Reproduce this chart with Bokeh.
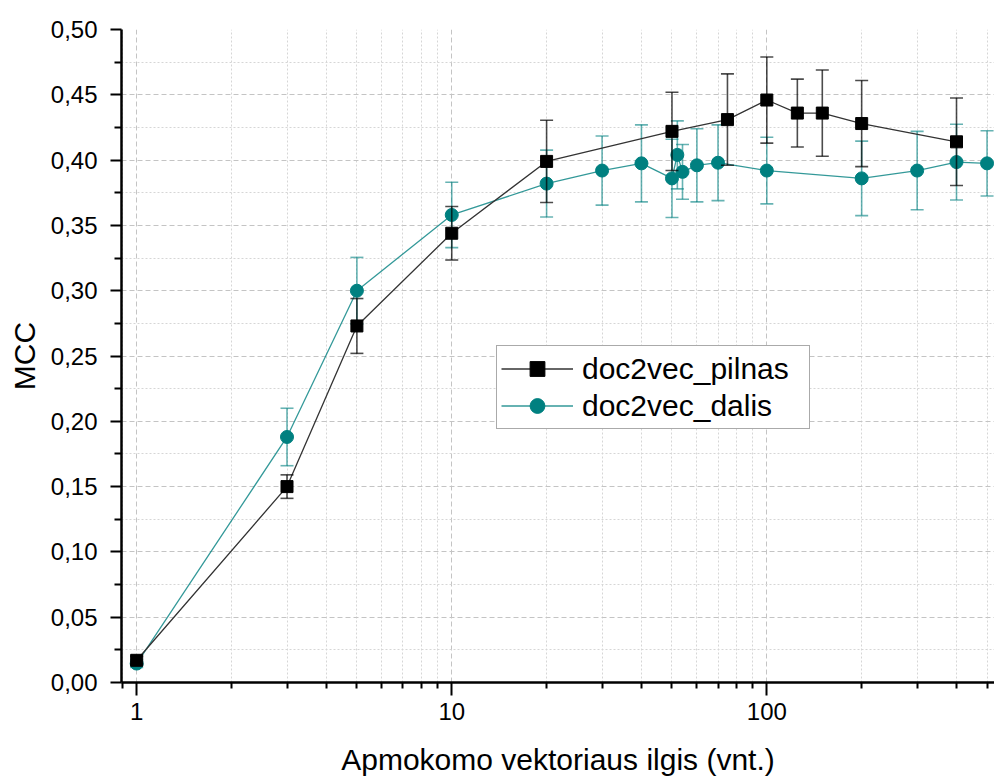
from bokeh.plotting import figure
from bokeh.models import Range1d, FixedTicker, CustomJSTickFormatter, ColumnDataSource
from bokeh.embed import file_html
from bokeh.resources import INLINE

# ---- data ----
pilnas_x = [1, 3, 5, 10, 20, 50, 75, 100, 125, 150, 200, 400]
pilnas_y = [0.017, 0.150, 0.273, 0.344, 0.399, 0.422, 0.431, 0.446, 0.436, 0.436, 0.428, 0.414]
pilnas_err = [0.003, 0.009, 0.021, 0.0205, 0.0315, 0.030, 0.035, 0.033, 0.026, 0.033, 0.033, 0.0335]

dalis_x = [1, 3, 5, 10, 20, 30, 40, 50, 52, 54, 60, 70, 100, 200, 300, 400, 500]
dalis_y = [0.0145, 0.188, 0.300, 0.358, 0.382, 0.392, 0.3975, 0.386, 0.404, 0.391, 0.396, 0.398,
           0.392, 0.386, 0.392, 0.3985, 0.3975]
dalis_err = [0.003, 0.022, 0.0255, 0.025, 0.0256, 0.0265, 0.0295, 0.030, 0.026, 0.021, 0.028, 0.029,
             0.0255, 0.0285, 0.030, 0.029, 0.025]

x_major_ticks = [1, 10, 100]
x_minor_ticks = [0.9, 2, 3, 4, 5, 6, 7, 8, 9, 20, 30, 40, 50, 60, 70, 80, 90, 200, 300, 400, 500]
y_major_ticks = [0.0, 0.05, 0.10, 0.15, 0.20, 0.25, 0.30, 0.35, 0.40, 0.45, 0.50]
y_minor_ticks = [0.025, 0.075, 0.125, 0.175, 0.225, 0.275, 0.325, 0.375, 0.425, 0.475]

x_label = "Apmokomo vektoriaus ilgis (vnt.)"
y_label = "MCC"
name_pilnas = "doc2vec_pilnas"
name_dalis = "doc2vec_dalis"

FONT = "Liberation Sans"
TEAL = "#008080"

def with_err(xs, ys, es):
    return ColumnDataSource(dict(
        x=xs, y=ys,
        lo=[y - e for y, e in zip(ys, es)],
        hi=[y + e for y, e in zip(ys, es)],
    ))

src_p = with_err(pilnas_x, pilnas_y, pilnas_err)
src_d = with_err(dalis_x, dalis_y, dalis_err)

p = figure(width=994, height=778, x_axis_type="log",
           x_range=Range1d(0.895, 528), y_range=Range1d(0, 0.5),
           output_backend="svg", toolbar_location=None,
           min_border_left=121, min_border_right=0, min_border_top=29, min_border_bottom=94)
p.outline_line_color = None

# axes
xt = FixedTicker(ticks=x_major_ticks, minor_ticks=x_minor_ticks)
yt = FixedTicker(ticks=y_major_ticks, minor_ticks=y_minor_ticks)
p.xaxis.ticker = xt
p.yaxis.ticker = yt
p.xgrid.ticker = xt
p.ygrid.ticker = yt
p.xaxis.formatter = CustomJSTickFormatter(code="return String(Math.round(tick));")
p.yaxis.formatter = CustomJSTickFormatter(code="return tick.toFixed(2).replace('.', ',');")

for ax in (p.xaxis, p.yaxis):
    ax.axis_line_width = 2.5
    ax.axis_line_color = "black"
    ax.major_tick_line_width = 2
    ax.minor_tick_line_width = 2
    ax.major_tick_in = 0
    ax.minor_tick_in = 0
    ax.major_label_text_font = FONT
    ax.major_label_text_font_size = "24px"
    ax.major_label_text_color = "black"
    ax.axis_label_text_font = FONT
    ax.axis_label_text_font_style = "normal"
    ax.axis_label_text_color = "black"

p.yaxis.major_tick_out = 11
p.yaxis.minor_tick_out = 7
p.yaxis.major_label_standoff = 13
p.yaxis.axis_label = y_label
p.yaxis.axis_label_text_font_size = "30px"
p.yaxis.axis_label_standoff = 7

p.xaxis.major_tick_out = 13
p.xaxis.minor_tick_out = 6
p.xaxis.major_label_standoff = 7
p.xaxis.axis_label = x_label
p.xaxis.axis_label_text_font_size = "30px"
p.xaxis.axis_label_standoff = 20

for g in (p.xgrid, p.ygrid):
    g.grid_line_color = "#c4c4c4"
    g.grid_line_dash = "5 3"
    g.grid_line_width = 1
    g.minor_grid_line_color = "#d6d6d6"
    g.minor_grid_line_dash = "2 2"
    g.minor_grid_line_width = 1

# teal series (doc2vec_dalis)
p.line("x", "y", source=src_d, line_color=TEAL, line_width=1.3, line_alpha=0.8,
       legend_label=name_dalis)
p.segment("x", "lo", "x", "hi", source=src_d, line_color=TEAL, line_width=1.6, line_alpha=0.6)
p.scatter("x", "lo", source=src_d, marker="dash", size=13, line_color=TEAL, line_width=1.6, line_alpha=0.6)
p.scatter("x", "hi", source=src_d, marker="dash", size=13, line_color=TEAL, line_width=1.6, line_alpha=0.6)
p.scatter("x", "y", source=src_d, marker="circle", size=13, fill_color=TEAL, line_color=TEAL,
          legend_label=name_dalis)

# black series (doc2vec_pilnas)
p.line("x", "y", source=src_p, line_color="#333333", line_width=1.3, legend_label=name_pilnas)
p.segment("x", "lo", "x", "hi", source=src_p, line_color="black", line_width=1.6, line_alpha=0.7)
p.scatter("x", "lo", source=src_p, marker="dash", size=13, line_color="black", line_width=1.6, line_alpha=0.7)
p.scatter("x", "hi", source=src_p, marker="dash", size=13, line_color="black", line_width=1.6, line_alpha=0.7)
p.scatter("x", "y", source=src_p, marker="square", size=12, fill_color="black", line_color="black",
          legend_label=name_pilnas)

# legend
lg = p.legend[0]
items = list(lg.items)
lg.items = [it for it in items if it.label.value == name_pilnas] + \
           [it for it in items if it.label.value == name_dalis]
lg.location = (375, 253)
lg.label_text_font = FONT
lg.label_text_font_size = "30px"
lg.label_text_color = "black"
lg.glyph_width = 72
lg.glyph_height = 37
lg.label_height = 37
lg.label_width = 223
lg.label_standoff = 9
lg.padding = 4
lg.spacing = 0
lg.margin = 0
lg.border_line_color = "#555555"
lg.border_line_width = 1
lg.background_fill_alpha = 1

open("out.html", "w").write(file_html(p, INLINE))
